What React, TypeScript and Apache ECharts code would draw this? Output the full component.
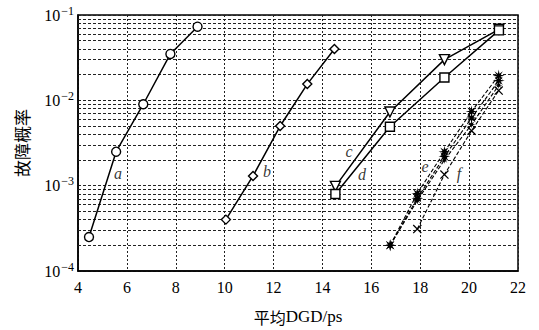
import React, { useEffect, useRef } from "react";
import * as echarts from "echarts";

// ---- data ----
const xA = [4.45, 5.56, 6.67, 7.78, 8.89];
const yA = [2.5e-4, 2.5e-3, 9e-3, 3.5e-2, 7.3e-2];
const xB = [10.05, 11.16, 12.27, 13.38, 14.49];
const yB = [4e-4, 1.3e-3, 5e-3, 1.55e-2, 4e-2];
const xCD = [14.53, 16.76, 18.99, 21.22];
const yC = [9.8e-4, 7.3e-3, 3.0e-2, 6.8e-2];
const yD = [8e-4, 4.9e-3, 1.85e-2, 6.6e-2];
const xE = [16.77, 17.88, 18.99, 20.1, 21.21];
const yE1 = [2e-4, 8.1e-4, 2.5e-3, 7.4e-3, 1.95e-2];
const yE2 = [2e-4, 7.1e-4, 2.2e-3, 6.2e-3, 1.7e-2];
const yE3 = [2e-4, 6.7e-4, 2.0e-3, 5.2e-3, 1.5e-2];
const xF = [17.88, 18.99, 20.1, 21.21];
const yF = [3.1e-4, 1.35e-3, 4.4e-3, 1.3e-2];

const curveLabels = ["a", "b", "c", "d", "e", "f"];
const labelX = [5.64, 11.73, 15.09, 15.62, 18.2, 19.59];
const labelY = [1.37e-3, 1.45e-3, 2.5e-3, 1.34e-3, 1.7e-3, 1.37e-3];

const minorDecades = [1e-4, 1e-3, 1e-2];
const minorMultipliers = [2, 3, 4, 5, 6, 7, 8, 9];
const xMin = 4;
const xMax = 22;

const xNameCn = "平均";
const xNameEn = "DGD/ps";
const yName = "故障概率";

const STAR =
  "path://M10 0 L3.23 1.34 L7.07 7.07 L1.34 3.23 L0 10 L-1.34 3.23 L-7.07 7.07 L-3.23 1.34 L-10 0 L-3.23 -1.34 L-7.07 -7.07 L-1.34 -3.23 L0 -10 L1.34 -3.23 L7.07 -7.07 L3.23 -1.34 Z";
const XMARK =
  "path://M-10 -8 L-8 -10 L10 8 L8 10 Z M8 -10 L10 -8 L-8 10 L-10 8 Z";

const zip = (xs: number[], ys: number[]) => xs.map((x, i) => [x, ys[i]]);

export default function App() {
  const ref = useRef<HTMLDivElement>(null);
  useEffect(() => {
    if (!ref.current) return;
    const chart = echarts.init(ref.current, null, { renderer: "svg" });
    const serif = "'Liberation Serif', 'DejaVu Serif', serif";
    const cjk = "'Noto Sans CJK SC', sans-serif";
    const minorLines: any[] = [];
    minorDecades.forEach((d) =>
      minorMultipliers.forEach((m) =>
        minorLines.push({ coords: [[xMin, m * d], [xMax, m * d]] })
      )
    );
    const solid = (name: string, data: number[][], symbol: string, size: number, rotate = 0) => ({
      name,
      type: "line",
      data,
      symbol,
      symbolSize: size,
      symbolRotate: rotate,
      showSymbol: true,
      lineStyle: { color: "#000", width: 1.5 },
      itemStyle: { color: "#fff", borderColor: "#000", borderWidth: 1.4 },
      z: 5,
    });
    const dashed = (name: string, data: number[][], symbol: string, size: number) => ({
      name,
      type: "line",
      data,
      symbol,
      symbolSize: size,
      lineStyle: { color: "#000", width: 1.1, type: [4, 2] },
      itemStyle: { color: "#000", borderWidth: 0 },
      z: 5,
    });
    chart.setOption({
      animation: false,
      backgroundColor: "#fff",
      grid: {
        left: 78,
        right: 21,
        top: 15,
        bottom: 54,
        show: true,
        borderColor: "#000",
        borderWidth: 1.5,
      },
      xAxis: {
        type: "value",
        min: xMin,
        max: xMax,
        interval: 2,
        name: `{c|${xNameCn}}{l|${xNameEn}}`,
        nameLocation: "middle",
        nameGap: 37,
        nameTextStyle: {
          rich: {
            c: { fontFamily: cjk, fontSize: 16, color: "#000" },
            l: { fontFamily: serif, fontSize: 17, color: "#000" },
          },
        },
        axisLine: { show: true, onZero: false, lineStyle: { color: "#000", width: 1.5 } },
        axisTick: { show: false },
        axisLabel: { color: "#000", fontFamily: serif, fontSize: 16, margin: 8 },
        splitLine: {
          show: true,
          lineStyle: { color: "#222", width: 1, type: [2, 2] },
        },
      },
      yAxis: {
        type: "log",
        logBase: 10,
        min: 1e-4,
        max: 1e-1,
        name: yName,
        nameLocation: "middle",
        nameRotate: 90,
        nameGap: 48,
        nameTextStyle: { fontFamily: cjk, fontSize: 17, color: "#000" },
        axisLine: { show: true, lineStyle: { color: "#000", width: 1.5 } },
        axisTick: { show: false },
        axisLabel: {
          margin: 4,
          formatter: (v: number) => `{b|10}{s|−${Math.round(-Math.log10(v))}}`,
          rich: {
            b: { fontFamily: serif, fontSize: 16, color: "#000" },
            s: { fontFamily: serif, fontSize: 12, color: "#000", padding: [0, 0, 9, 1] },
          },
        },
        splitLine: {
          show: true,
          lineStyle: { color: "#222", width: 1, type: [3, 2] },
        },
      },
      series: [
        {
          type: "lines",
          coordinateSystem: "cartesian2d",
          silent: true,
          polyline: false,
          symbol: "none",
          lineStyle: { color: "#222", width: 1, type: [3, 2], opacity: 1 },
          data: minorLines,
          z: 1,
        },
        solid("a", zip(xA, yA), "circle", 9),
        solid("b", zip(xB, yB), "diamond", 9),
        solid("c", zip(xCD, yC), "triangle", 10, 180),
        solid("d", zip(xCD, yD), "rect", 9),
        dashed("e1", zip(xE, yE1), STAR, 12),
        dashed("e2", zip(xE, yE2), STAR, 12),
        dashed("e3", zip(xE, yE3), STAR, 8),
        dashed("f", zip(xF, yF), XMARK, 9),
        {
          type: "scatter",
          symbolSize: 0,
          silent: true,
          data: labelX.map((x, i) => ({ value: [x, labelY[i]], name: curveLabels[i] })),
          label: {
            show: true,
            position: "inside",
            formatter: (p: any) => p.name,
            fontFamily: serif,
            fontStyle: "italic",
            fontSize: 16,
            color: "#000",
          },
          z: 6,
        },
      ],
    });
    return () => chart.dispose();
  }, []);
  return (
    <div
      ref={ref}
      style={{ position: "fixed", left: 0, top: 0, width: 539, height: 330, background: "#fff" }}
    />
  );
}
